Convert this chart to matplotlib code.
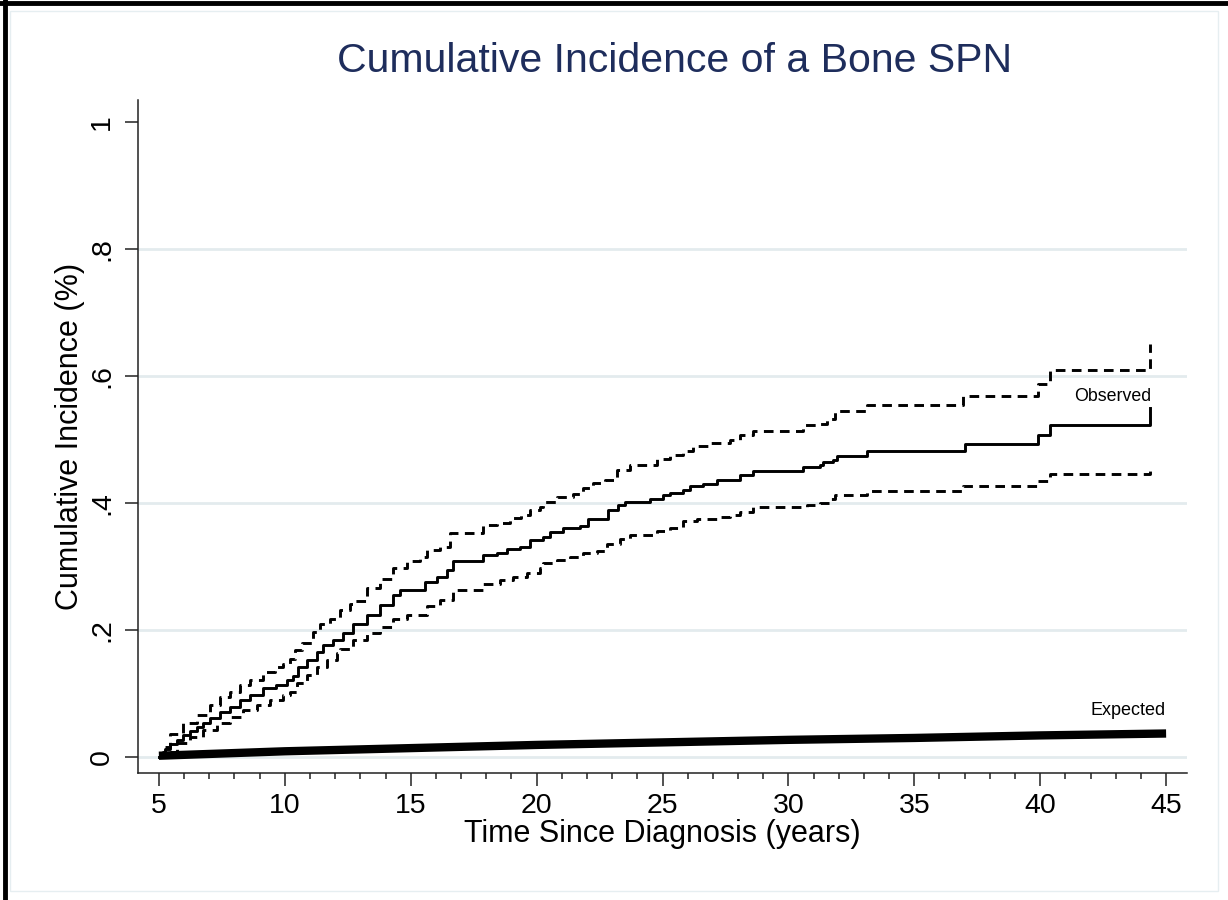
import matplotlib.pyplot as plt
from matplotlib.lines import Line2D
from matplotlib.patches import Rectangle

plt.rcParams['font.family'] = ['Liberation Sans', 'DejaVu Sans']

# Observed cumulative incidence (step function) and its confidence limits
obs_t = [5.00, 5.25, 5.45, 5.70, 5.97, 6.25, 6.50, 6.75, 7.03, 7.42, 7.82, 8.22, 8.61,
         9.14, 9.67, 10.07, 10.34, 10.53, 10.87, 11.26, 11.53, 11.92, 12.32, 12.72,
         13.25, 13.78, 14.31, 14.57, 15.57, 16.03, 16.43, 16.69, 17.88, 18.41, 18.81,
         19.34, 19.74, 20.27, 20.53, 21.06, 21.72, 22.05, 22.85, 23.25, 23.51, 24.50,
         25.03, 25.30, 25.83, 26.09, 26.62, 27.15, 28.08, 28.61, 30.59, 31.26, 31.39,
         31.79, 31.92, 33.11, 37.02, 39.93, 40.39, 44.36]
obs_v = [0.000, 0.012, 0.020, 0.027, 0.034, 0.041, 0.048, 0.054, 0.061, 0.071, 0.079,
         0.090, 0.098, 0.108, 0.113, 0.121, 0.128, 0.141, 0.153, 0.166, 0.176, 0.184,
         0.195, 0.210, 0.224, 0.239, 0.255, 0.263, 0.276, 0.283, 0.294, 0.308, 0.318,
         0.322, 0.327, 0.330, 0.342, 0.347, 0.355, 0.360, 0.364, 0.374, 0.389, 0.397,
         0.402, 0.407, 0.413, 0.416, 0.420, 0.426, 0.430, 0.436, 0.444, 0.451, 0.456,
         0.460, 0.465, 0.468, 0.474, 0.482, 0.493, 0.507, 0.523, 0.549]

upper_t = [5.00, 5.15, 5.44, 5.97, 6.50, 7.03, 7.42, 7.82, 8.22, 8.61, 9.14, 9.61, 9.94,
           10.20, 10.40, 10.67, 11.13, 11.40, 11.79, 12.19, 12.59, 12.72, 13.25, 13.78,
           14.31, 14.84, 15.37, 15.63, 16.16, 16.56, 17.88, 18.41, 18.94, 19.40, 19.74,
           20.13, 20.27, 20.80, 21.46, 21.86, 22.25, 22.72, 23.18, 23.71, 24.77, 25.30,
           25.83, 26.22, 26.89, 27.68, 28.08, 28.61, 30.59, 31.26, 31.52, 31.85, 33.11,
           36.95, 39.93, 40.39, 44.36]
upper_v = [0.000, 0.015, 0.037, 0.053, 0.066, 0.082, 0.095, 0.103, 0.113, 0.122, 0.134,
           0.141, 0.147, 0.155, 0.168, 0.179, 0.197, 0.209, 0.218, 0.231, 0.241, 0.245,
           0.266, 0.281, 0.297, 0.308, 0.315, 0.326, 0.331, 0.352, 0.365, 0.369, 0.376,
           0.381, 0.389, 0.394, 0.402, 0.410, 0.414, 0.423, 0.431, 0.436, 0.452, 0.460,
           0.469, 0.476, 0.482, 0.489, 0.494, 0.499, 0.507, 0.514, 0.523, 0.525, 0.533,
           0.545, 0.554, 0.569, 0.588, 0.610, 0.651]

lower_t = [5.00, 5.17, 5.70, 6.23, 6.76, 7.29, 7.82, 8.35, 8.88, 9.41, 9.94, 10.20, 10.47,
           10.87, 11.26, 11.66, 12.06, 12.19, 12.72, 13.25, 13.78, 14.31, 14.84, 15.63,
           16.16, 16.69, 17.88, 18.54, 19.07, 19.60, 20.13, 20.27, 20.80, 21.33, 21.86,
           22.39, 22.79, 23.31, 23.71, 24.77, 25.30, 25.83, 26.36, 27.15, 27.68, 28.08,
           28.61, 30.72, 31.26, 31.65, 31.85, 33.11, 36.95, 39.93, 40.39, 44.36]
lower_v = [0.000, 0.008, 0.022, 0.032, 0.043, 0.053, 0.063, 0.074, 0.082, 0.090, 0.098,
           0.103, 0.116, 0.129, 0.142, 0.153, 0.163, 0.170, 0.184, 0.195, 0.205, 0.218,
           0.224, 0.237, 0.247, 0.263, 0.273, 0.279, 0.283, 0.289, 0.297, 0.305, 0.310,
           0.315, 0.321, 0.325, 0.336, 0.344, 0.350, 0.356, 0.361, 0.371, 0.374, 0.378,
           0.381, 0.386, 0.393, 0.397, 0.400, 0.407, 0.413, 0.419, 0.426, 0.434, 0.446,
           0.457]

# Expected cumulative incidence
exp_t = [5, 10, 15, 20, 25, 30, 35, 40, 45]
exp_v = [0.002, 0.009, 0.014, 0.019, 0.023, 0.027, 0.030, 0.034, 0.037]

x_ticks = [5, 10, 15, 20, 25, 30, 35, 40, 45]
y_ticks = [0, 0.2, 0.4, 0.6, 0.8, 1.0]
y_ticklabels = ['0', '.2', '.4', '.6', '.8', '1']

fig = plt.figure(figsize=(12.28, 9), dpi=100)
ax = fig.add_axes([138 / 1228, 1 - 773 / 900, (1187 - 138) / 1228, (773 - 100) / 900])

grid_col = '#e3ebee'
for y in [0, 0.2, 0.4, 0.6, 0.8]:
    ax.axhline(y, color=grid_col, lw=2, zorder=0)

ax.plot(exp_t, exp_v, color='black', lw=6, solid_capstyle='butt', zorder=2)
ax.plot(upper_t, upper_v, color='black', lw=2.1, drawstyle='steps-post',
        dashes=(3.3, 2.2), zorder=3)
ax.plot(lower_t, lower_v, color='black', lw=2.1, drawstyle='steps-post',
        dashes=(3.3, 2.2), zorder=3)
ax.plot(obs_t, obs_v, color='black', lw=2.1, drawstyle='steps-post', zorder=3)

ax.text(44.4, 0.567, 'Observed', ha='right', va='center', fontsize=12.8)
ax.text(45.0, 0.074, 'Expected', ha='right', va='center', fontsize=13)

ax.set_xlim(4.17, 45.83)
ax.set_ylim(-0.0252, 1.0346)
ax.set_xticks(x_ticks)
ax.set_xticks(range(5, 46), minor=True)
ax.set_yticks(y_ticks)
ax.set_yticklabels(y_ticklabels, rotation=90, va='center')
ax.tick_params(axis='both', which='major', length=9.5, width=1.1, labelsize=20.5,
               color='#222222', pad=5)
ax.tick_params(axis='y', which='major', pad=7)
ax.tick_params(axis='x', which='minor', length=4.5, width=1.1, color='#222222')
ax.tick_params(axis='y', which='minor', left=False)

for s in ['top', 'right']:
    ax.spines[s].set_visible(False)
for s in ['left', 'bottom']:
    ax.spines[s].set_linewidth(1.1)
    ax.spines[s].set_color('#222222')

ax.set_xlabel('Time Since Diagnosis (years)', fontsize=22, labelpad=0)
ax.set_ylabel('Cumulative Incidence (%)', fontsize=22, labelpad=3)

fig.text(675 / 1228, 1 - 61 / 900, 'Cumulative Incidence of a Bone SPN',
         ha='center', va='center', fontsize=29.5, color='#1e2d5c')

# graph region outline and the dark frame at top/left
fig.add_artist(Rectangle((10 / 1228, 1 - 891 / 900), 1208 / 1228, 880 / 900,
                         transform=fig.transFigure, fill=False,
                         edgecolor='#e6eef1', lw=1))
fig.add_artist(Line2D([0, 1], [1 - 2.5 / 900, 1 - 2.5 / 900], color='black', lw=3.5,
                      transform=fig.transFigure))
fig.add_artist(Line2D([5 / 1228, 5 / 1228], [0, 1], color='black', lw=3.5,
                      transform=fig.transFigure))

fig.savefig('out.png', dpi=100)
